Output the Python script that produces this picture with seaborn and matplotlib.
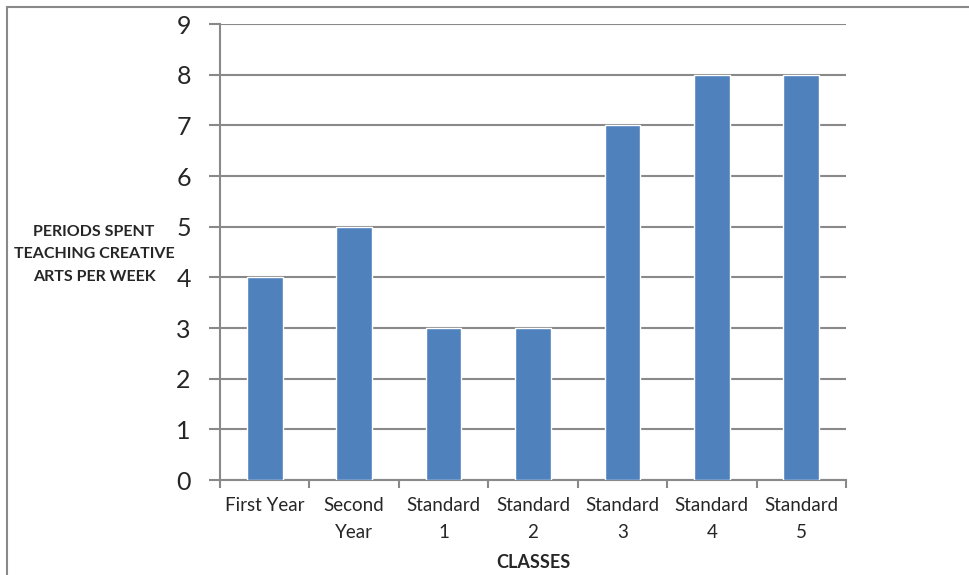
import pandas as pd
import matplotlib.pyplot as plt
import seaborn as sns
from matplotlib.patches import Rectangle
from matplotlib.ticker import FixedLocator, NullFormatter

# Chart data
classes = ['First Year', 'Second\nYear', 'Standard\n1', 'Standard\n2',
           'Standard\n3', 'Standard\n4', 'Standard\n5']
periods = [4, 5, 3, 3, 7, 8, 8]
y_ticks = [0, 1, 2, 3, 4, 5, 6, 7, 8, 9]

df = pd.DataFrame({'Class': classes, 'Periods': periods})

sns.set_style('white')
plt.rcParams['font.family'] = ['Lato', 'DejaVu Sans']

grey = '#898989'
fig = plt.figure(figsize=(9.69, 5.75), dpi=100)
ax = fig.add_axes([220 / 969, 95 / 575, 626 / 969, 456 / 575])

sns.barplot(data=df, x='Class', y='Periods', color='#4F81BD', width=0.4,
            saturation=1, ax=ax, zorder=3)

# Axis limits and gridlines
ax.set_ylim(0, 9)
ax.set_xlim(-0.5, len(classes) - 0.5)
ax.set_yticks(y_ticks)
ax.set_yticklabels([str(v) for v in y_ticks], fontsize=18)
ax.yaxis.grid(True, color=grey, linewidth=1.5, zorder=0)
ax.tick_params(axis='y', length=8, width=1.5, color=grey, pad=13, left=True)

# x ticks sit between categories, labels at the category centres
ax.xaxis.set_major_locator(FixedLocator([i - 0.5 for i in range(len(classes) + 1)]))
ax.xaxis.set_major_formatter(NullFormatter())
ax.xaxis.set_minor_locator(FixedLocator(list(range(len(classes)))))
ax.set_xticklabels(classes, minor=True, fontsize=13.5, linespacing=1.75)
ax.tick_params(axis='x', which='major', length=6, width=1.5, color=grey, bottom=True)
ax.tick_params(axis='x', which='minor', length=0, pad=12)

for side in ['top', 'right']:
    ax.spines[side].set_visible(False)
for side in ['left', 'bottom']:
    ax.spines[side].set_color(grey)
    ax.spines[side].set_linewidth(1.5)

ax.set_ylabel('PERIODS SPENT\nTEACHING CREATIVE\nARTS PER WEEK', rotation=0,
              fontsize=11.5, fontweight='bold', ha='center', va='center',
              linespacing=1.75)
ax.yaxis.set_label_coords(-0.201, 0.495)
ax.set_xlabel('CLASSES', fontsize=13, fontweight='bold', va='center')
ax.xaxis.set_label_coords(0.5, -0.18)

# Outer chart border
fig.patches.append(Rectangle((7 / 969, -0.05), 1.1, 0.05 + (575 - 6.5) / 575,
                             transform=fig.transFigure, fill=False,
                             edgecolor=grey, linewidth=1.5, clip_on=False))

fig.savefig('out.png', dpi=100)
